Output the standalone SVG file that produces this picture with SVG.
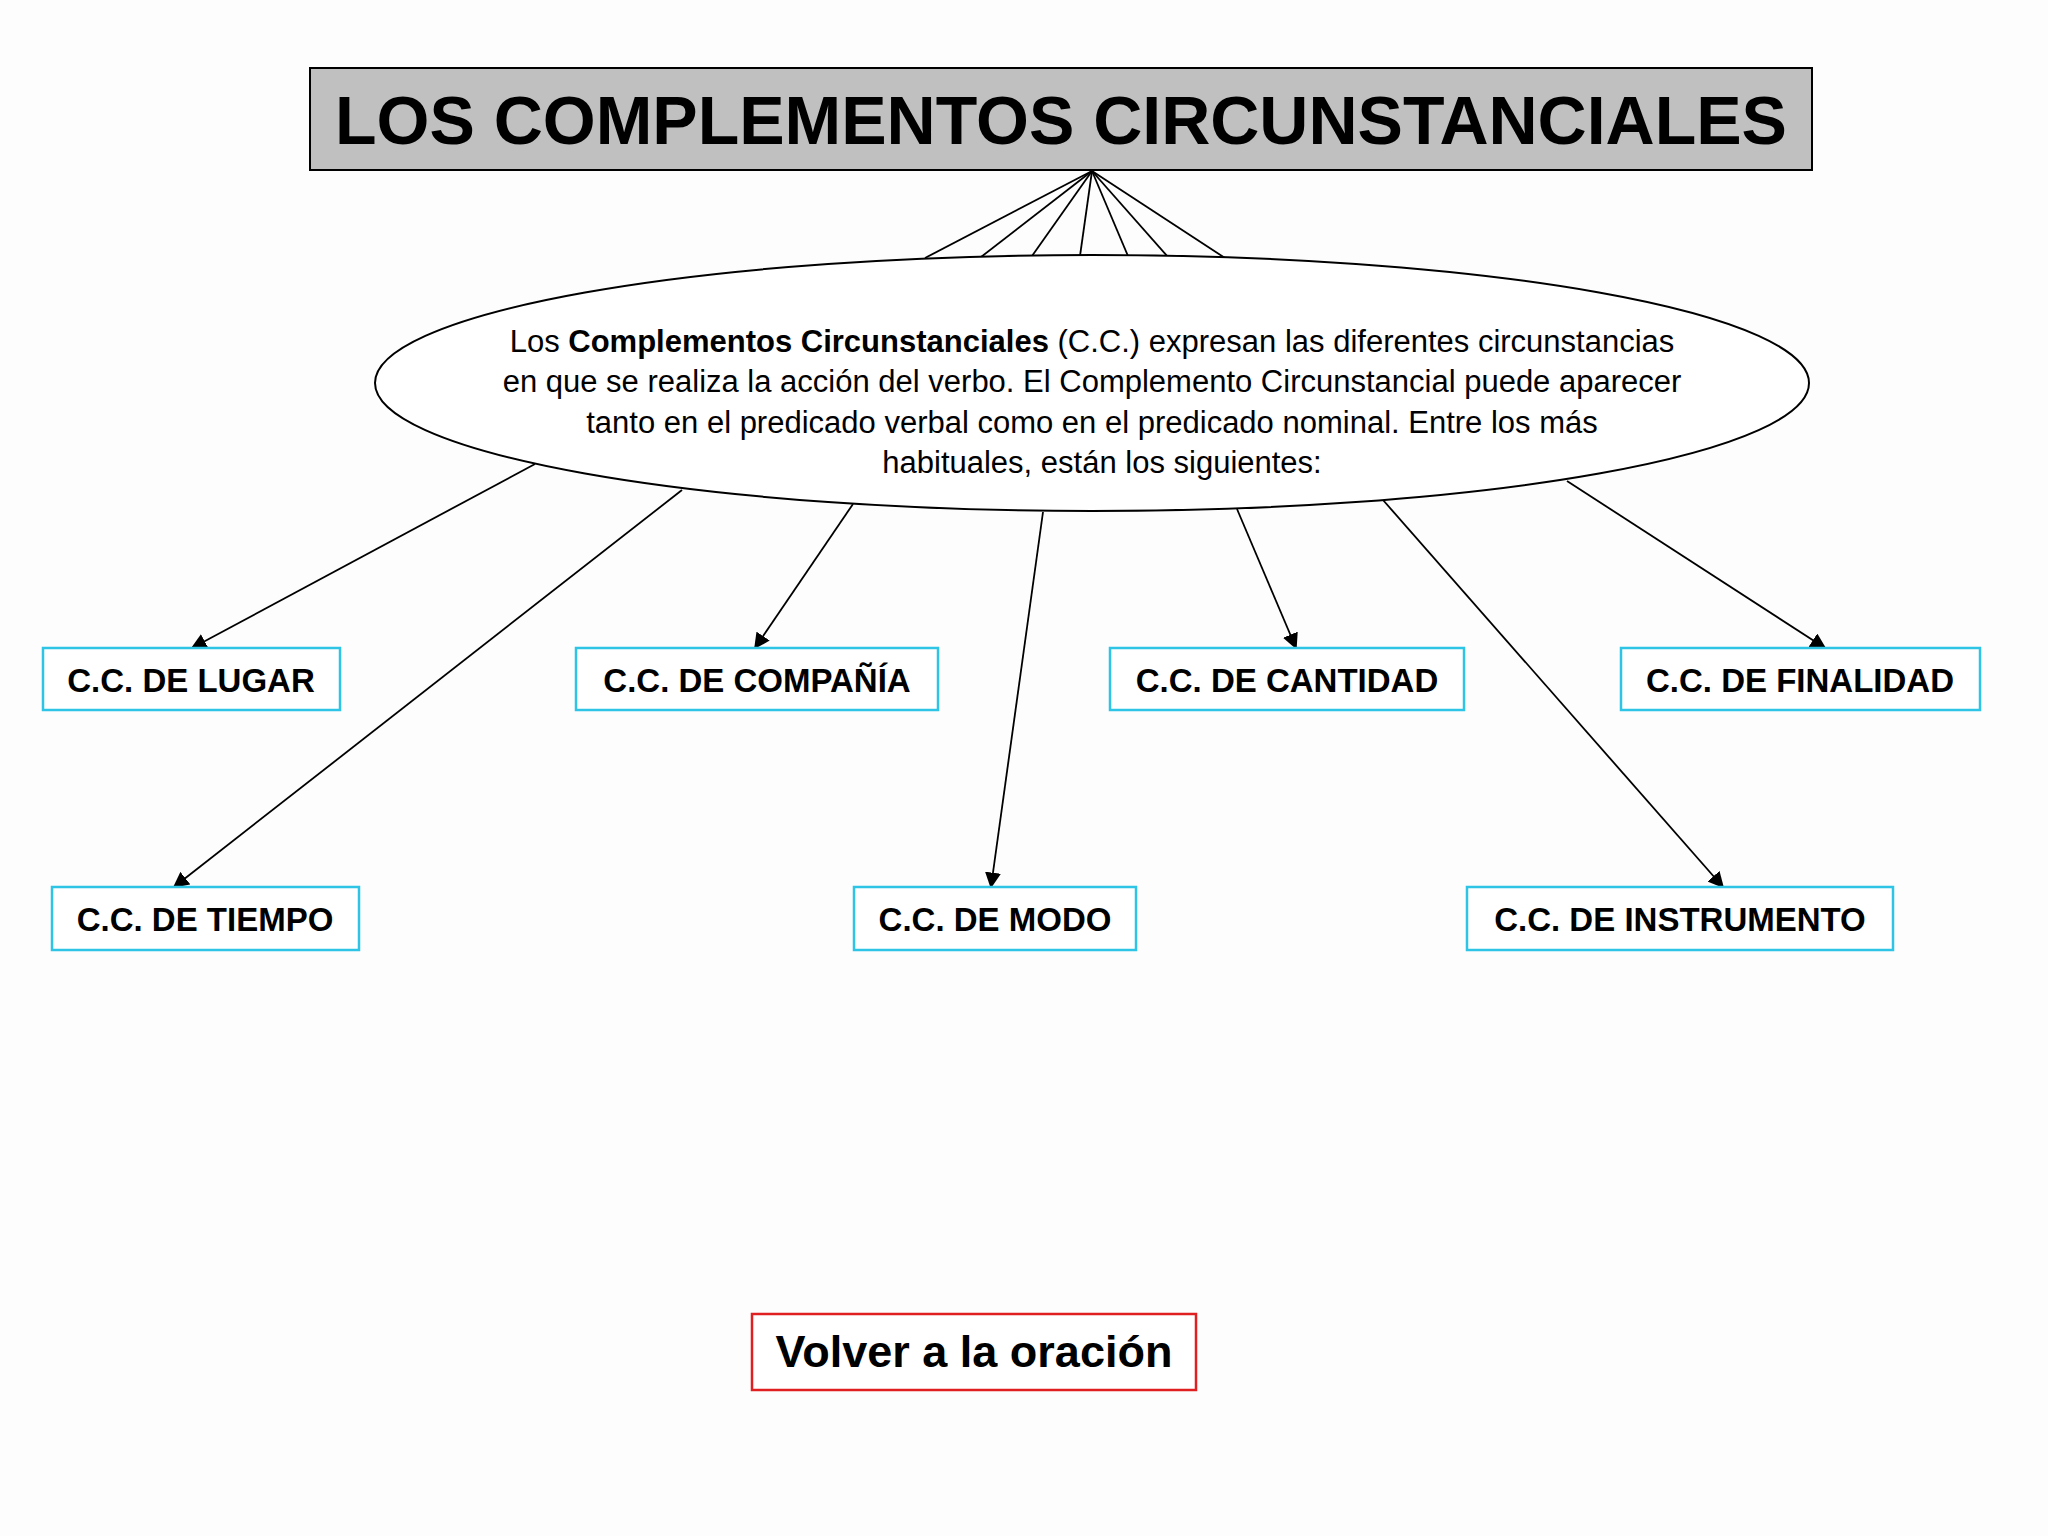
<svg xmlns="http://www.w3.org/2000/svg" width="2048" height="1536" viewBox="0 0 2048 1536">
<style>
text{font-family:"Liberation Sans",Arial,sans-serif;fill:#000}
.b{fill:#fff;stroke:#2ec4e6;stroke-width:2.5}
.l{font-weight:bold;font-size:33px;text-anchor:middle}
.c line{stroke:#000;stroke-width:1.8}
.e{font-size:31px;text-anchor:middle}
</style>
<defs><marker id="a" viewBox="0 0 10 10" refX="9" refY="5" markerWidth="9" markerHeight="9" markerUnits="userSpaceOnUse" orient="auto"><path d="M0,0L10,5L0,10z"/></marker><marker id="m" viewBox="0 0 10 10" refX="9" refY="5" markerWidth="16" markerHeight="16" markerUnits="userSpaceOnUse" orient="auto"><path d="M0,0L10,5L0,10z"/></marker></defs>
<rect width="2048" height="1536" fill="#fdfdfd"/>
<g class="c">
<line x1="1092" y1="171" x2="925" y2="258"/><line x1="1092" y1="171" x2="981" y2="257"/><line x1="1092" y1="171" x2="1032" y2="256"/><line x1="1092" y1="171" x2="1080" y2="256"/><line x1="1092" y1="171" x2="1128" y2="256"/><line x1="1092" y1="171" x2="1168" y2="257"/><line x1="1092" y1="171" x2="1225" y2="258"/>
<line x1="535" y1="464" x2="192" y2="648" marker-end="url(#m)"/>
<line x1="682" y1="490" x2="174" y2="887" marker-end="url(#m)"/>
<line x1="853" y1="504" x2="755" y2="648" marker-end="url(#m)"/>
<line x1="1043" y1="512" x2="991" y2="887" marker-end="url(#m)"/>
<line x1="1237" y1="509" x2="1296" y2="648" marker-end="url(#m)"/>
<line x1="1383" y1="500" x2="1723" y2="887" marker-end="url(#m)"/>
<line x1="1567" y1="481" x2="1825" y2="648" marker-end="url(#m)"/>
</g>
<g id="title"><rect x="310" y="68" width="1502" height="102" fill="#c0c0c0" stroke="#000" stroke-width="2"/><text x="1061" y="144" font-size="68" font-weight="bold" text-anchor="middle">LOS COMPLEMENTOS CIRCUNSTANCIALES</text></g>
<g id="def"><ellipse cx="1092" cy="383" rx="717" ry="128" fill="#fff" stroke="#000" stroke-width="2"/>
<text class="e" x="1092" y="352">Los <tspan font-weight="bold">Complementos Circunstanciales</tspan> (C.C.) expresan las diferentes circunstancias</text>
<text class="e" x="1092" y="392">en que se realiza la acción del verbo. El Complemento Circunstancial puede aparecer</text>
<text class="e" x="1092" y="433">tanto en el predicado verbal como en el predicado nominal. Entre los más</text>
<text class="e" x="1102" y="473">habituales, están los siguientes:</text></g>
<g id="lugar"><rect class="b" x="43" y="648" width="297" height="62"/><text class="l" x="191" y="692">C.C. DE LUGAR</text></g>
<g id="compania"><rect class="b" x="576" y="648" width="362" height="62"/><text class="l" x="757" y="692">C.C. DE COMPAÑÍA</text></g>
<g id="cantidad"><rect class="b" x="1110" y="648" width="354" height="62"/><text class="l" x="1287" y="692">C.C. DE CANTIDAD</text></g>
<g id="finalidad"><rect class="b" x="1621" y="648" width="359" height="62"/><text class="l" x="1800" y="692">C.C. DE FINALIDAD</text></g>
<g id="tiempo"><rect class="b" x="52" y="887" width="307" height="63"/><text class="l" x="205" y="931">C.C. DE TIEMPO</text></g>
<g id="modo"><rect class="b" x="854" y="887" width="282" height="63"/><text class="l" x="995" y="931">C.C. DE MODO</text></g>
<g id="instrumento"><rect class="b" x="1467" y="887" width="426" height="63"/><text class="l" x="1680" y="931">C.C. DE INSTRUMENTO</text></g>
<g id="volver"><rect x="752" y="1314" width="444" height="76" fill="#fff" stroke="#e02020" stroke-width="2.5"/><text x="974" y="1367" font-size="45" font-weight="bold" text-anchor="middle">Volver a la oración</text></g>
</svg>
